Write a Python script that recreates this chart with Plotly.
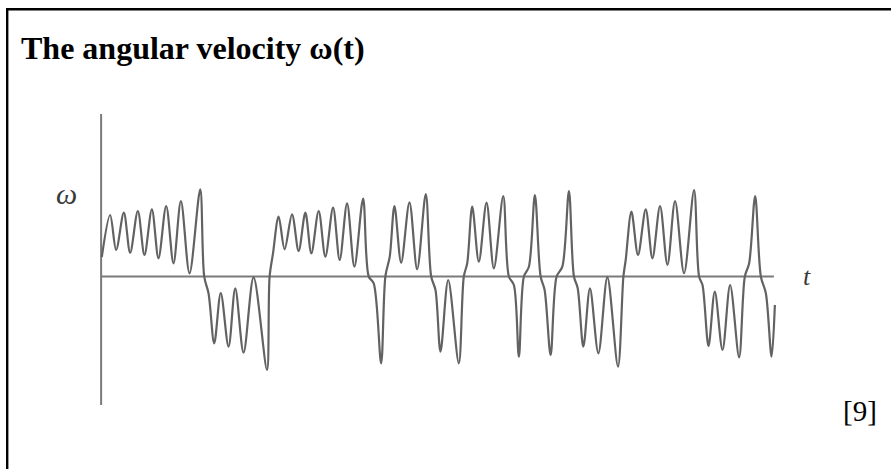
import plotly.graph_objects as go

# Angular velocity of the driven pendulum, traced sample by sample (t, omega)
t = [0.07, 0.9, 1.5, 2.27, 2.9, 3.67, 4.33, 5.07, 5.73, 6.5, 7.23, 7.97, 8.83, 9.9,
     10.3, 10.73, 11.3, 11.95, 12.73, 13.4, 14.23, 15.23, 16.57,
     16.83, 17.17, 17.73, 18.33, 19.07, 19.73, 20.4, 21.0, 21.73, 22.4, 23.17, 23.83,
     24.57, 25.3, 26.17,
     26.73, 27.23, 27.97, 28.4, 28.83, 29.3, 29.97, 30.8, 31.57, 32.43,
     32.97, 33.4, 33.9, 34.67, 35.73,
     36.23, 36.57, 37.07, 37.73, 38.5, 39.23, 40.17,
     40.73, 41.23, 41.73, 42.23, 42.73, 43.33,
     43.9, 44.3, 44.9, 45.5, 46.07, 46.73,
     47.23, 47.6, 48.17, 48.83, 49.67, 50.57, 51.63,
     52.17, 52.4, 52.97, 53.63, 54.4, 55.07, 55.83, 56.57, 57.33, 58.23, 59.23,
     59.73, 60.07, 60.67, 61.3, 62.07, 62.83, 63.73,
     64.3, 64.73, 65.33, 65.9, 66.4, 66.97, 67.3]
omega = [1.95, 6.15, 2.65, 6.38, 2.38, 6.55, 2.15, 6.72, 1.82, 7.05, 1.32, 7.55, 0.32, 8.72,
         -0.02, -1.68, -6.68, -1.65, -7.02, -1.18, -7.62, -0.08, -9.35,
         -0.02, 2.32, 5.98, 2.72, 6.22, 2.55, 6.38, 2.32, 6.55, 1.98, 6.88, 1.65,
         7.32, 0.98, 7.8,
         0.0, -0.68, -8.68, 0.05, 1.98, 7.05, 1.38, 7.42, 0.72, 8.25,
         0.0, -1.35, -7.52, -0.35, -8.68,
         0.0, 1.32, 6.98, 1.48, 7.38, 0.82, 8.05,
         0.0, -0.85, -8.02, 0.0, 0.98, 8.15,
         0.0, -1.35, -7.85, 0.0, 0.98, 8.55,
         0.0, -1.15, -7.02, -1.18, -7.68, -0.08, -9.02,
         0.0, 1.65, 6.48, 2.15, 6.72, 1.82, 7.05, 1.15, 7.55, 0.32, 8.65,
         0.0, -0.85, -6.95, -1.52, -7.35, -0.85, -8.08,
         0.0, 1.32, 8.05, 0.0, -1.68, -8.02, -2.85]

T_END = 67.2          # length of the time axis
W_TOP, W_BOT = 16.25, -12.85   # extent of the omega axis

W, H = 891, 469
fig = go.Figure()

fig.add_trace(go.Scatter(
    x=t, y=omega, mode="lines",
    line=dict(color="#626262", width=2.2, shape="spline", smoothing=0.9),
    hoverinfo="skip", showlegend=False,
))

axis_col = "#7a7a7a"
shapes = [
    # time axis
    dict(type="line", xref="x", yref="y", x0=0, x1=T_END, y0=0, y1=0,
         line=dict(color=axis_col, width=2), layer="below"),
    # omega axis
    dict(type="line", xref="x", yref="y", x0=0, x1=0, y0=W_BOT, y1=W_TOP,
         line=dict(color=axis_col, width=2), layer="below"),
    # frame
    dict(type="line", xref="paper", yref="paper", x0=7.2 / W, x1=7.2 / W,
         y0=-0.05, y1=1 - 9.2 / H, line=dict(color="black", width=2.4)),
    dict(type="line", xref="paper", yref="paper", x0=7.2 / W - 0.0013, x1=1.05,
         y0=1 - 9.2 / H, y1=1 - 9.2 / H, line=dict(color="black", width=2.4)),
]

annotations = [
    dict(text="<b>The angular velocity ω(t)</b>", xref="paper", yref="paper",
         x=19 / W, y=1 - 48 / H, xanchor="left", yanchor="middle", showarrow=False,
         font=dict(family="Liberation Serif", size=32, color="black")),
    dict(text="<i>ω</i>", xref="paper", yref="paper",
         x=66 / W, y=1 - 193 / H, xanchor="center", yanchor="middle", showarrow=False,
         font=dict(family="Liberation Serif", size=30, color="#3a3a3a")),
    dict(text="<i>t</i>", xref="paper", yref="paper",
         x=807 / W, y=1 - 276 / H, xanchor="center", yanchor="middle", showarrow=False,
         font=dict(family="Liberation Serif", size=26, color="#3a3a3a")),
    dict(text="[9]", xref="paper", yref="paper",
         x=860 / W, y=1 - 411 / H, xanchor="center", yanchor="middle", showarrow=False,
         font=dict(family="Liberation Serif", size=29, color="black")),
]

fig.update_layout(
    width=W, height=H,
    margin=dict(l=0, r=0, t=0, b=0),
    paper_bgcolor="white", plot_bgcolor="white",
    xaxis=dict(range=[-10.1, 78.9], visible=False, fixedrange=True),
    yaxis=dict(range=[-19.25, 27.65], visible=False, fixedrange=True),
    shapes=shapes, annotations=annotations,
)

fig.write_html("out.html", config={"displayModeBar": False})
